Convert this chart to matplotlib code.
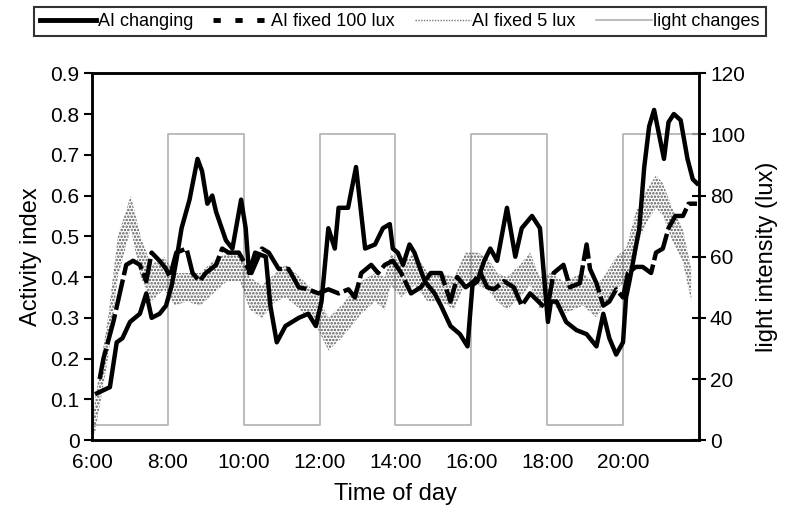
import matplotlib
matplotlib.use("Agg")
import matplotlib.pyplot as plt
from matplotlib.lines import Line2D

plt.rcParams['font.family'] = ['Liberation Sans', 'DejaVu Sans']
plt.rcParams['hatch.linewidth'] = 1.2

# AI changing (solid)
t_chg = [6.13, 6.47, 6.65, 6.8, 7.0, 7.26, 7.43, 7.57, 7.78, 7.95, 8.1, 8.22, 8.36, 8.57, 8.78, 8.9,
         9.04, 9.17, 9.27, 9.53, 9.7, 9.93, 10.05, 10.14, 10.3, 10.58, 10.7, 10.87, 11.1, 11.45, 11.7,
         11.9, 12.05, 12.23, 12.4, 12.5, 12.75, 12.96, 13.2, 13.46, 13.67, 13.85, 13.93, 14.06, 14.2,
         14.37, 14.5, 14.77, 15.03, 15.2, 15.45, 15.7, 15.9, 16.03, 16.16, 16.34, 16.5, 16.68, 16.94,
         17.16, 17.33, 17.6, 17.81, 18.02, 18.1, 18.25, 18.5, 18.77, 19.04, 19.3, 19.48, 19.64, 19.82,
         20.0, 20.08, 20.17, 20.43, 20.56, 20.69, 20.82, 20.95, 21.08, 21.2, 21.34, 21.52, 21.7, 21.84, 21.95]
ai_chg = [0.115, 0.13, 0.24, 0.25, 0.29, 0.31, 0.36, 0.30, 0.31, 0.33, 0.38, 0.44, 0.52, 0.59, 0.69, 0.66,
          0.58, 0.60, 0.56, 0.49, 0.47, 0.59, 0.52, 0.41, 0.46, 0.45, 0.33, 0.24, 0.28, 0.30, 0.31,
          0.28, 0.34, 0.52, 0.47, 0.57, 0.57, 0.67, 0.47, 0.48, 0.52, 0.53, 0.47, 0.46, 0.43,
          0.48, 0.46, 0.39, 0.36, 0.33, 0.28, 0.26, 0.23, 0.38, 0.39, 0.44, 0.47, 0.44, 0.57,
          0.45, 0.52, 0.55, 0.52, 0.29, 0.34, 0.34, 0.29, 0.27, 0.26, 0.23, 0.31, 0.25, 0.21,
          0.24, 0.35, 0.39, 0.52, 0.67, 0.77, 0.81, 0.75, 0.69, 0.78, 0.80, 0.785, 0.69, 0.64, 0.63]

# AI fixed 100 lux (dashed)
t_100 = [6.2, 6.3, 6.56, 6.73, 6.9, 7.08, 7.26, 7.43, 7.57, 7.78, 7.95, 8.05, 8.22, 8.49, 8.65, 8.83,
         9.0, 9.27, 9.43, 9.6, 9.87, 10.05, 10.2, 10.48, 10.66, 10.92, 11.18, 11.45, 11.7, 11.97,
         12.23, 12.5, 12.76, 12.93, 13.1, 13.36, 13.54, 13.72, 13.93, 14.15, 14.41, 14.67, 14.93,
         15.2, 15.45, 15.63, 15.85, 16.07, 16.24, 16.42, 16.6, 16.86, 17.12, 17.33, 17.55, 17.77,
         18.0, 18.17, 18.43, 18.6, 18.86, 19.04, 19.13, 19.3, 19.48, 19.64, 19.82, 20.0, 20.13,
         20.34, 20.52, 20.74, 20.87, 21.05, 21.2, 21.38, 21.58, 21.73, 21.95]
ai_100 = [0.15, 0.2, 0.29, 0.36, 0.43, 0.44, 0.43, 0.39, 0.46, 0.44, 0.42, 0.40, 0.46, 0.47, 0.41, 0.39,
          0.41, 0.43, 0.47, 0.46, 0.46, 0.43, 0.41, 0.47, 0.46, 0.42, 0.42, 0.375, 0.37, 0.36,
          0.37, 0.36, 0.37, 0.35, 0.41, 0.43, 0.41, 0.43, 0.44, 0.41, 0.36, 0.375, 0.41,
          0.41, 0.34, 0.40, 0.375, 0.39, 0.41, 0.375, 0.37, 0.39, 0.375, 0.33, 0.36, 0.34,
          0.32, 0.41, 0.43, 0.375, 0.385, 0.48, 0.42, 0.385, 0.33, 0.34, 0.37, 0.35, 0.41,
          0.425, 0.425, 0.41, 0.46, 0.47, 0.52, 0.55, 0.55, 0.58, 0.58]

# AI fixed 5 lux (stippled band, upper / lower edge)
t_5 = [6.0, 6.08, 6.42, 6.68, 7.02, 7.28, 7.55, 7.9, 8.17, 8.5, 8.85, 9.2, 9.56, 9.9, 10.16, 10.48,
       10.84, 11.1, 11.37, 11.7, 11.97, 12.23, 12.57, 12.93, 13.1, 13.46, 13.72, 13.88, 14.15, 14.5,
       14.85, 15.2, 15.55, 15.85, 16.16, 16.42, 16.68, 16.94, 17.28, 17.55, 17.81, 18.07, 18.43,
       18.95, 19.3, 19.56, 19.82, 20.08, 20.34, 20.6, 20.87, 21.05, 21.3, 21.57, 21.8]
ai_5_hi = [0.03, 0.10, 0.30, 0.50, 0.60, 0.50, 0.43, 0.45, 0.41, 0.41, 0.41, 0.44, 0.46, 0.46, 0.40, 0.38,
           0.41, 0.43, 0.41, 0.38, 0.35, 0.30, 0.33, 0.37, 0.39, 0.41, 0.40, 0.46, 0.43, 0.46,
           0.41, 0.41, 0.40, 0.46, 0.46, 0.45, 0.41, 0.40, 0.43, 0.46, 0.40, 0.41, 0.39,
           0.41, 0.38, 0.41, 0.45, 0.47, 0.56, 0.61, 0.65, 0.63, 0.57, 0.52, 0.42]
ai_5_lo = [0.0, 0.02, 0.20, 0.40, 0.52, 0.40, 0.34, 0.37, 0.33, 0.34, 0.33, 0.36, 0.39, 0.39, 0.32, 0.30,
           0.34, 0.35, 0.33, 0.30, 0.27, 0.22, 0.25, 0.29, 0.31, 0.34, 0.32, 0.38, 0.35, 0.38,
           0.34, 0.34, 0.32, 0.39, 0.38, 0.37, 0.34, 0.32, 0.35, 0.38, 0.32, 0.34, 0.31,
           0.33, 0.30, 0.34, 0.37, 0.39, 0.47, 0.53, 0.57, 0.55, 0.49, 0.44, 0.34]

# light schedule (lux), step changes every 2 h
light_t = [6, 8, 10, 12, 14, 16, 18, 20, 22]
light_lux = [5, 100, 5, 100, 5, 100, 5, 100, 100]

xticks = [6, 8, 10, 12, 14, 16, 18, 20]
xlabels = ['6:00', '8:00', '10:00', '12:00', '14:00', '16:00', '18:00', '20:00']

fig = plt.figure(figsize=(7.87, 5.16), dpi=100)
ax = fig.add_axes([0.117, 0.147, 0.771, 0.711])
ax2 = ax.twinx()
ax.set_zorder(ax2.get_zorder() + 1)
ax.patch.set_visible(False)

ax2.step(light_t, light_lux, where='post', color='#b0b0b0', lw=1.2)
ax2.set_ylim(0, 120)
ax2.set_yticks(range(0, 121, 20))

ax.fill_between(t_5, ai_5_lo, ai_5_hi, facecolor='none', edgecolor='#555555',
                hatch='.....', linewidth=0)
ax.plot(t_100, ai_100, color='black', lw=3.2, ls=(0, (7, 1)))
ax.plot(t_chg, ai_chg, color='black', lw=3.2)

ax.set_xlim(6, 22)
ax.set_ylim(0, 0.9)
ax.set_yticks([i / 10 for i in range(10)])
ax.set_yticklabels(['0'] + ['%.1f' % (i / 10) for i in range(1, 10)])
ax.set_xticks(xticks)
ax.set_xticklabels(xlabels)

for a in (ax, ax2):
    for s in a.spines.values():
        s.set_linewidth(1.8)
ax.tick_params(axis='y', direction='out', length=6, width=1.5, labelsize=15, pad=3)
ax.tick_params(axis='x', length=0, pad=9, labelsize=15)
ax2.tick_params(axis='y', direction='inout', length=10, width=1.5, labelsize=15, pad=3)

ax.set_ylabel('Activity index', fontsize=17, labelpad=6)
ax.set_xlabel('Time of day', fontsize=17, labelpad=8)
ax2.set_ylabel('light intensity (lux)', fontsize=17, labelpad=8)

handles = [
    Line2D([], [], color='black', lw=3.5),
    Line2D([], [], color='black', lw=3.5, ls=(0, (1.5, 3))),
    Line2D([], [], color='#777777', lw=1.0, ls=(0, (1, 1))),
    Line2D([], [], color='#b0b0b0', lw=1.2),
]
labels = ['AI changing', 'AI fixed 100 lux', 'AI fixed 5 lux', 'light changes']
leg = fig.legend(handles, labels, loc='upper center', bbox_to_anchor=(0.5085, 0.994), ncol=4,
                 fontsize=13, frameon=True, fancybox=False, handlelength=3.1,
                 handletextpad=0.1, columnspacing=1.1, borderpad=0.35, borderaxespad=0.2)
leg.get_frame().set_edgecolor('black')
leg.get_frame().set_linewidth(1.5)

fig.savefig('out.png', dpi=100)
